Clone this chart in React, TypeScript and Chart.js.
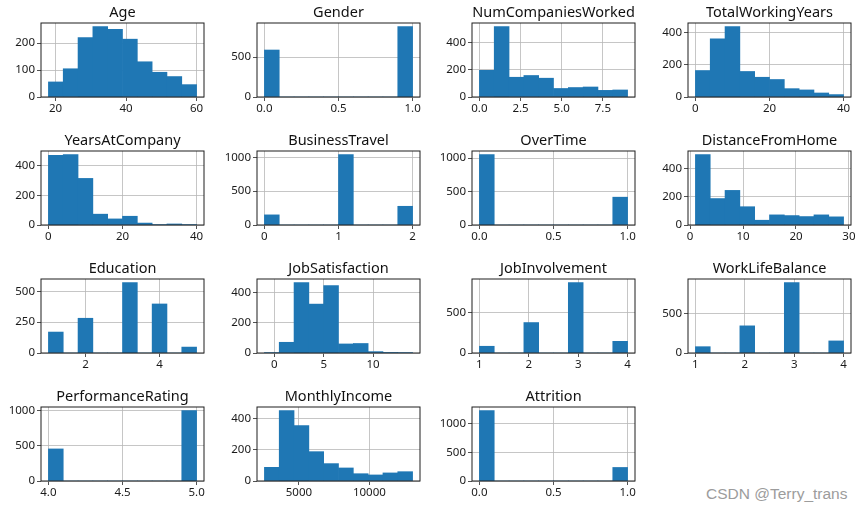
import React, { useEffect, useRef } from "react";
import { Chart, registerables } from "chart.js";
Chart.register(...registerables);

// ---------- data ----------
const ageRange = [18, 60];
const ageCounts = [56, 105, 221, 262, 252, 215, 131, 92, 76, 46];
const ageXTicks = ["20", "40", "60"];
const ageYTicks = ["0", "100", "200"];

const genderRange = [0, 1];
const genderCounts = [588, 0, 0, 0, 0, 0, 0, 0, 0, 882];
const genderXTicks = ["0.0", "0.5", "1.0"];
const genderYTicks = ["0", "500"];

const numCompRange = [0, 9];
const numCompCounts = [197, 521, 146, 159, 139, 63, 70, 74, 49, 52];
const numCompXTicks = ["0.0", "2.5", "5.0", "7.5"];
const numCompYTicks = ["0", "200", "400"];

const totalYearsRange = [0, 40];
const totalYearsCounts = [165, 362, 439, 159, 123, 109, 52, 44, 25, 15];
const totalYearsXTicks = ["0", "20", "40"];
const totalYearsYTicks = ["0", "200", "400"];

const yearsCompRange = [0, 40];
const yearsCompCounts = [470, 475, 314, 73, 41, 59, 13, 2, 7, 1];
const yearsCompXTicks = ["0", "20", "40"];
const yearsCompYTicks = ["0", "200", "400"];

const travelRange = [0, 2];
const travelCounts = [150, 0, 0, 0, 0, 1043, 0, 0, 0, 277];
const travelXTicks = ["0", "1", "2"];
const travelYTicks = ["0", "500", "1000"];

const overTimeRange = [0, 1];
const overTimeCounts = [1054, 0, 0, 0, 0, 0, 0, 0, 0, 416];
const overTimeXTicks = ["0.0", "0.5", "1.0"];
const overTimeYTicks = ["0", "500", "1000"];

const distanceRange = [1, 29];
const distanceCounts = [501, 188, 246, 130, 34, 72, 67, 60, 72, 58];
const distanceXTicks = ["0", "10", "20", "30"];
const distanceYTicks = ["0", "200", "400"];

const educationRange = [1, 5];
const educationCounts = [170, 0, 282, 0, 0, 572, 0, 398, 0, 48];
const educationXTicks = ["2", "4"];
const educationYTicks = ["0", "250", "500"];

const jobSatRange = [-1, 14];
const jobSatCounts = [2, 71, 467, 324, 446, 60, 63, 9, 4, 1];
const jobSatXTicks = ["0", "5", "10"];
const jobSatYTicks = ["0", "200", "400"];

const jobInvRange = [1, 4];
const jobInvCounts = [83, 0, 0, 375, 0, 0, 868, 0, 0, 144];
const jobInvXTicks = ["1", "2", "3", "4"];
const jobInvYTicks = ["0", "500"];

const wlbRange = [1, 4];
const wlbCounts = [80, 0, 0, 344, 0, 0, 893, 0, 0, 153];
const wlbXTicks = ["1", "2", "3", "4"];
const wlbYTicks = ["0", "500"];

const perfRange = [4, 5];
const perfCounts = [455, 0, 0, 0, 0, 0, 0, 0, 0, 1000];
const perfXTicks = ["4.0", "4.5", "5.0"];
const perfYTicks = ["0", "500", "1000"];

const incomeRange = [2550, 13070];
const incomeCounts = [88, 454, 357, 189, 112, 84, 47, 39, 52, 60];
const incomeXTicks = ["5000", "10000"];
const incomeYTicks = ["0", "200", "400"];

const attritionRange = [0, 1];
const attritionCounts = [1233, 0, 0, 0, 0, 0, 0, 0, 0, 237];
const attritionXTicks = ["0.0", "0.5", "1.0"];
const attritionYTicks = ["0", "500", "1000"];

type Spec = {
  title: string;
  range: number[];
  counts: number[];
  xTicks: string[];
  yTicks: string[];
};

const specs: Spec[] = [
  { title: "Age", range: ageRange, counts: ageCounts, xTicks: ageXTicks, yTicks: ageYTicks },
  { title: "Gender", range: genderRange, counts: genderCounts, xTicks: genderXTicks, yTicks: genderYTicks },
  { title: "NumCompaniesWorked", range: numCompRange, counts: numCompCounts, xTicks: numCompXTicks, yTicks: numCompYTicks },
  { title: "TotalWorkingYears", range: totalYearsRange, counts: totalYearsCounts, xTicks: totalYearsXTicks, yTicks: totalYearsYTicks },
  { title: "YearsAtCompany", range: yearsCompRange, counts: yearsCompCounts, xTicks: yearsCompXTicks, yTicks: yearsCompYTicks },
  { title: "BusinessTravel", range: travelRange, counts: travelCounts, xTicks: travelXTicks, yTicks: travelYTicks },
  { title: "OverTime", range: overTimeRange, counts: overTimeCounts, xTicks: overTimeXTicks, yTicks: overTimeYTicks },
  { title: "DistanceFromHome", range: distanceRange, counts: distanceCounts, xTicks: distanceXTicks, yTicks: distanceYTicks },
  { title: "Education", range: educationRange, counts: educationCounts, xTicks: educationXTicks, yTicks: educationYTicks },
  { title: "JobSatisfaction", range: jobSatRange, counts: jobSatCounts, xTicks: jobSatXTicks, yTicks: jobSatYTicks },
  { title: "JobInvolvement", range: jobInvRange, counts: jobInvCounts, xTicks: jobInvXTicks, yTicks: jobInvYTicks },
  { title: "WorkLifeBalance", range: wlbRange, counts: wlbCounts, xTicks: wlbXTicks, yTicks: wlbYTicks },
  { title: "PerformanceRating", range: perfRange, counts: perfCounts, xTicks: perfXTicks, yTicks: perfYTicks },
  { title: "MonthlyIncome", range: incomeRange, counts: incomeCounts, xTicks: incomeXTicks, yTicks: incomeYTicks },
  { title: "Attrition", range: attritionRange, counts: attritionCounts, xTicks: attritionXTicks, yTicks: attritionYTicks },
];

// ---------- layout ----------
const COL_LEFT = [41, 257, 472, 688];
const ROW_TOP = [23, 151, 279, 407];
const BOX_W = 163;
const BOX_H = 74;
const PAD_TOP = 26;
const PAD_RIGHT = 14;
const Y_W = 42;
const X_H = 22;

const BLUE = "#1f77b4";
const FONT = '"Noto Sans", "Open Sans", sans-serif';
const TEXT = "#1a1a1a";

function Histogram({ spec, left, top }: { spec: Spec; left: number; top: number }) {
  const ref = useRef<HTMLCanvasElement | null>(null);
  useEffect(() => {
    if (!ref.current) return;
    const [lo, hi] = spec.range;
    const n = spec.counts.length;
    const w = (hi - lo) / n;
    const span = hi - lo;
    const data = spec.counts.map((c, i) => ({ x: lo + (i + 0.5) * w, y: c }));
    const ymax = Math.max(...spec.counts) * 1.05;
    const frame = {
      id: "frame",
      afterDraw(chart: any) {
        const { ctx, chartArea: a } = chart;
        ctx.save();
        ctx.strokeStyle = "#1e1e1e";
        ctx.lineWidth = 1;
        ctx.strokeRect(a.left, a.top, a.right - a.left, a.bottom - a.top);
        ctx.fillStyle = "#111";
        ctx.font = `14.5px ${FONT}`;
        ctx.textAlign = "center";
        ctx.textBaseline = "alphabetic";
        ctx.fillText(spec.title, (a.left + a.right) / 2, a.top - 6);
        ctx.restore();
      },
    };
    const chart = new Chart(ref.current, {
      type: "bar",
      data: {
        datasets: [
          {
            data: data as any,
            backgroundColor: BLUE,
            borderWidth: 0,
            barPercentage: 1,
            categoryPercentage: 1,
          },
        ],
      },
      options: {
        animation: false,
        responsive: true,
        maintainAspectRatio: false,
        layout: { padding: { top: PAD_TOP, right: PAD_RIGHT, left: 0, bottom: 0 } },
        plugins: { legend: { display: false }, tooltip: { enabled: false }, title: { display: false } },
        scales: {
          x: {
            type: "linear",
            min: lo - 0.05 * span,
            max: hi + 0.05 * span,
            bounds: "data",
            offset: false,
            z: 1,
            afterBuildTicks: (s: any) => {
              s.ticks = spec.xTicks.map((t) => ({ value: parseFloat(t) }));
            },
            afterFit: (s: any) => {
              s.height = X_H;
            },
            ticks: {
              autoSkip: false,
              maxRotation: 0,
              minRotation: 0,
              padding: 1,
              color: TEXT,
              font: { family: FONT, size: 11.5 },
              callback: (_v: any, i: number) => spec.xTicks[i],
            },
            grid: { color: "#b8b8b8", lineWidth: 0.8, tickColor: "#262626", tickLength: 4, offset: false },
            border: { display: false },
          },
          y: {
            type: "linear",
            min: 0,
            max: ymax,
            bounds: "data",
            z: 1,
            afterBuildTicks: (s: any) => {
              s.ticks = spec.yTicks.map((t) => ({ value: parseFloat(t) }));
            },
            afterFit: (s: any) => {
              s.width = Y_W;
            },
            ticks: {
              autoSkip: false,
              padding: 2,
              color: TEXT,
              font: { family: FONT, size: 11.5 },
              callback: (_v: any, i: number) => spec.yTicks[i],
            },
            grid: { color: "#b8b8b8", lineWidth: 0.8, tickColor: "#262626", tickLength: 4 },
            border: { display: false },
          },
        },
      } as any,
      plugins: [frame],
    });
    return () => chart.destroy();
  }, [spec]);
  return (
    <div
      style={{
        position: "absolute",
        left: left - Y_W,
        top: top - PAD_TOP,
        width: BOX_W + Y_W + PAD_RIGHT,
        height: BOX_H + PAD_TOP + X_H,
      }}
    >
      <canvas ref={ref} />
    </div>
  );
}

export default function App() {
  return (
    <div style={{ position: "absolute", left: 0, top: 0, width: 865, height: 514, background: "#fff", overflow: "hidden" }}>
      {specs.map((s, i) => (
        <Histogram key={s.title} spec={s} left={COL_LEFT[i % 4]} top={ROW_TOP[Math.floor(i / 4)]} />
      ))}
      <div
        style={{
          position: "absolute",
          left: 706,
          top: 485,
          fontFamily: '"Liberation Sans", Arial, sans-serif',
          fontSize: 15.5,
          color: "#9c9c9c",
          whiteSpace: "nowrap",
        }}
      >
        CSDN @Terry_trans
      </div>
    </div>
  );
}
